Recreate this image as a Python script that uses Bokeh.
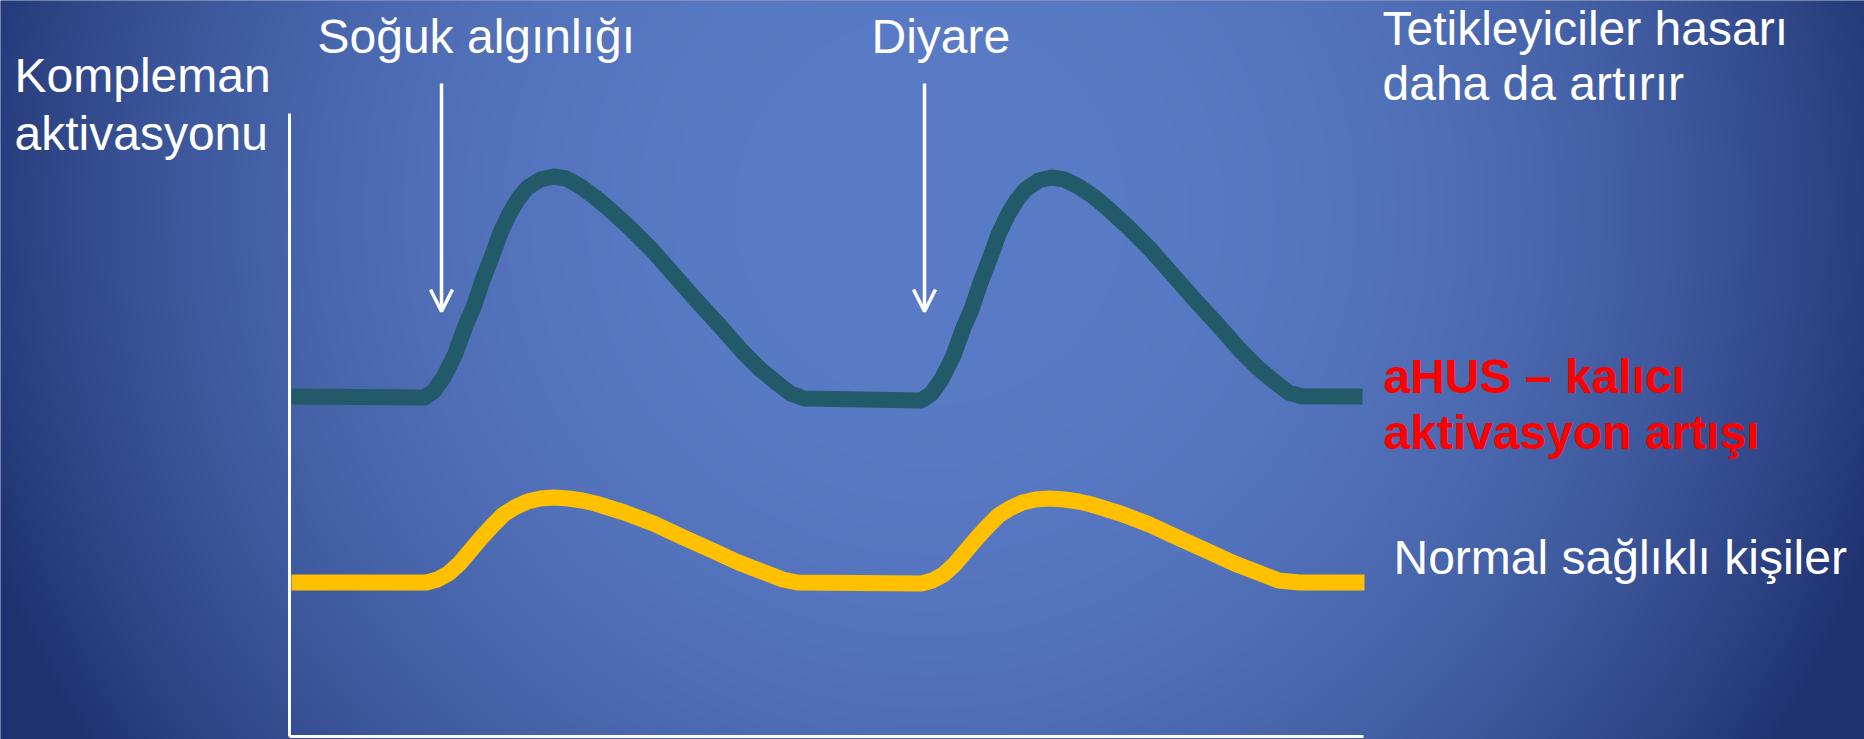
import numpy as np
from bokeh.plotting import figure
from bokeh.models import Range1d, Label, Arrow, OpenHead
from bokeh.embed import file_html
from bokeh.resources import INLINE

# ---- data (time units on x, activation units on y) ----
ahus_t = [2, 135, 144, 154, 166, 176, 184, 193, 202, 211, 220, 229, 238, 251, 264, 277, 291, 306, 318,
          341, 363, 385, 407, 430, 452, 471, 488, 501, 515, 631,
          633, 642, 652, 664, 674, 682, 691, 700, 709, 718, 727, 736, 749, 762, 775, 789, 804, 816,
          839, 861, 883, 905, 928, 950, 969, 986, 999, 1013, 1073]
ahus_a = [340, 339, 345, 359, 383, 411, 429, 456, 479, 504, 523, 538, 549, 557, 560, 558, 550, 539, 529,
          508, 486, 461, 436, 411, 386, 367, 353, 343, 338, 336,
          337, 343, 357, 381, 409, 427, 454, 477, 502, 521, 536, 547, 556, 559, 557, 550, 540, 530,
          509, 487, 462, 437, 412, 387, 368, 354, 344, 340, 340]

norm_t = [2, 137, 148, 159, 170, 181, 192, 203, 214, 225, 238, 251, 264, 279, 293, 306, 335, 364, 394,
          423, 449, 475, 493, 508, 632,
          643, 654, 665, 676, 687, 698, 709, 720, 733, 746, 760, 775, 789, 802, 831, 860, 890, 919,
          945, 971, 989, 1010, 1075]
norm_a = [154, 154, 157, 163, 173, 186, 199, 211, 222, 229, 235, 238, 239, 238, 236, 233, 224, 213, 199,
          186, 174, 164, 157, 154, 153,
          156, 162, 172, 185, 198, 210, 221, 228, 234, 237, 238, 237, 235, 232, 223, 212, 198, 185,
          173, 163, 156, 154, 154]

trigger_names = ["Soğuk algınlığı", "Diyare"]
trigger_t = [152, 635]
arrow_top = 653
arrow_bottom = 425

axis_t_max = 1074
axis_a_max = 623

W, H = 1864, 739
X0, Y0 = -289, -3

p = figure(width=W, height=H, x_range=Range1d(X0, X0 + W), y_range=Range1d(Y0, Y0 + H),
           toolbar_location=None, output_backend="svg", min_border=0,
           background_fill_color="#203472", border_fill_color="#203472")
p.outline_line_color = None
p.xaxis.visible = False
p.yaxis.visible = False
p.grid.visible = False

# ---- radial gradient background ----
cx, cy = 930.0, 210.0
R = 1000.0
xs = np.arange(W) + 0.5
rows = np.arange(H)
py = (H - 1 - rows) + 0.5
XX, YY = np.meshgrid(xs, py)
d = np.sqrt((XX - cx) ** 2 + (YY - cy) ** 2) / R
f = np.clip(d, 0, 1) ** 2.5
c_in = np.array([90, 124, 198], dtype=float)
c_out = np.array([31, 50, 112], dtype=float)
img = np.empty((H, W), dtype=np.uint32)
view = img.view(dtype=np.uint8).reshape((H, W, 4))
for k in range(3):
    view[:, :, k] = (c_in[k] + (c_out[k] - c_in[k]) * f).astype(np.uint8)
view[:, :, 3] = 255
p.image_rgba(image=[img], x=X0, y=Y0, dw=W, dh=H)

# ---- axes ----
p.line([0, 0], [0, axis_a_max], line_color="white", line_width=3)
p.line([0, axis_t_max], [0, 0], line_color="white", line_width=3)

# ---- curves ----
p.line(ahus_t, ahus_a, line_color="#235a6a", line_width=16, line_cap="butt", line_join="round")
p.line(norm_t, norm_a, line_color="#ffc000", line_width=16, line_cap="butt", line_join="round")

# ---- trigger arrows ----
for t in trigger_t:
    p.add_layout(Arrow(end=OpenHead(size=22, line_color="white", line_width=3.5),
                       x_start=t, y_start=arrow_top, x_end=t, y_end=arrow_bottom,
                       line_color="white", line_width=3.5))

FONT = "Liberation Sans"

def lab(x, y, text, color="white", style="normal"):
    p.add_layout(Label(x=x, y=y, text=text, text_font=FONT, text_font_size="48px",
                       text_color=color, text_font_style=style, text_baseline="alphabetic",
                       text_align="left"))

lab(-275, 661, "Kompleman")
lab(-275, 603, "aktivasyonu")
lab(28, 700, trigger_names[0])
lab(582, 700, trigger_names[1])
lab(1093, 708, "Tetikleyiciler hasarı")
lab(1093, 653, "daha da artırır")
lab(1094, 360, "aHUS – kalıcı", color="#ff0000", style="bold")
lab(1094, 304, "aktivasyon artışı", color="#ff0000", style="bold")
lab(1104, 179, "Normal sağlıklı kişiler")

open("out.html", "w").write(file_html(p, INLINE))
